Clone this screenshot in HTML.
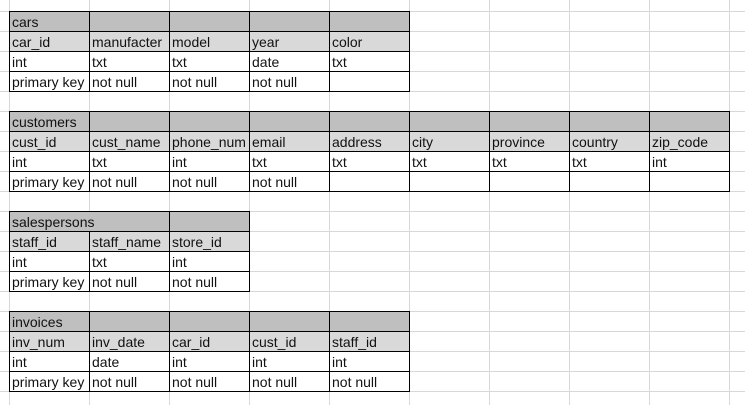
<!DOCTYPE html>
<html><head><meta charset="utf-8"><style>
html,body{margin:0;padding:0}
body{width:745px;height:405px;overflow:hidden;position:relative;background-color:#fff;
background-image:linear-gradient(to right,#d8d8d8 1px,transparent 1px),linear-gradient(to bottom,#d8d8d8 1px,transparent 1px);
background-size:80px 20px;background-position:9px 11px;font-family:"Liberation Sans",Arial,sans-serif;font-size:14px;color:#111}
.c{position:absolute;box-sizing:border-box;height:21px;border:1px solid #000;padding:2px 0 0 2px;white-space:nowrap;overflow:hidden;line-height:17px}
.h1{background:#bfbfbf}.h2{background:#d9d9d9}.w{background:#fff}
</style></head><body>
<script>
var T=[
[11,[["cars","","","",""],["car_id","manufacter","model","year","color"],["int","txt","txt","date","txt"],["primary key","not null","not null","not null",""]]],
[111,[["customers","","","","","","","",""],["cust_id","cust_name","phone_num","email","address","city","province","country","zip_code"],["int","txt","int","txt","txt","txt","txt","txt","int"],["primary key","not null","not null","not null","","","","",""]]],
[211,[["salespersons",null,""],["staff_id","staff_name","store_id"],["int","txt","int"],["primary key","not null","not null"]]],
[311,[["invoices","","","",""],["inv_num","inv_date","car_id","cust_id","staff_id"],["int","date","int","int","int"],["primary key","not null","not null","not null","not null"]]]
];
var h="";
T.forEach(function(t){var y0=t[0];t[1].forEach(function(r,ri){var cls=ri==0?"h1":ri==1?"h2":"w";
for(var i=0;i<r.length;i++){if(r[i]===null)continue;var w=81;if(r[i+1]===null)w=161;
h+='<div class="c '+cls+'" style="left:'+(9+80*i)+'px;top:'+(y0+20*ri)+'px;width:'+w+'px">'+r[i]+'</div>';}});});
document.write(h);
</script>
</body></html>
